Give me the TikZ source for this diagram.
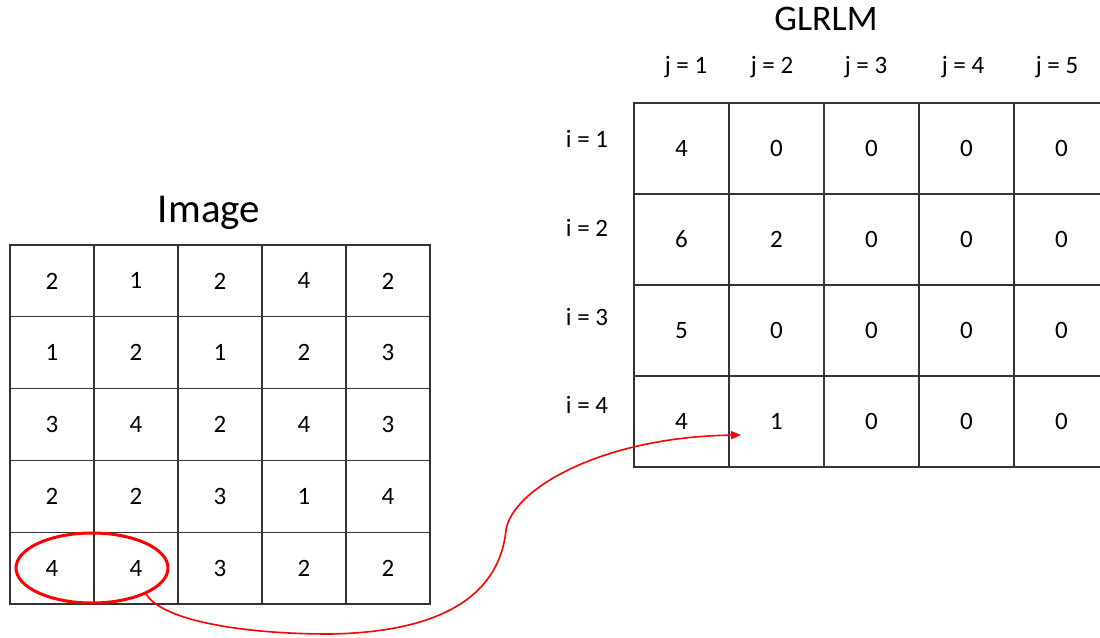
\documentclass[tikz,border=0pt]{standalone}
\usepackage{fontspec}
\setmainfont{Carlito}
\usetikzlibrary{arrows.meta, shapes.geometric}

\begin{document}
\begin{tikzpicture}[
        x=1pt, y=-1pt,
        >={Triangle[length=10pt, width=8pt]},
        every node/.style={font=\fontsize{25}{29}\selectfont},
        cell/.style={rectangle, draw=black!80, line width=1.3pt, inner sep=0pt},
        imcell/.style={cell, minimum width=84pt, minimum height=71.8pt},
        glcell/.style={cell, minimum width=95pt, minimum height=91pt},
        title/.style={anchor=base, font=\fontsize{41}{46}\selectfont}
    ]
    \useasboundingbox (0,0) rectangle (1100,637);

    % Draw image cells
    \foreach \row [count=\r] in {{2,1,2,4,2},{1,2,1,2,3},{3,4,2,4,3},{2,2,3,1,4},{4,4,3,2,2}} {
        \foreach \v [count=\c] in \row {
            \node[imcell] (im\r\c) at (84*\c-32, 71.8*\r+209.1) {\v};
        }
    }
    \node[title] (imtitle) at (209,222) {Image};

    % Draw GLRLM cells
    \foreach \row [count=\r] in {{4,0,0,0,0},{6,2,0,0,0},{5,0,0,0,0},{4,1,0,0,0}} {
        \foreach \v [count=\c] in \row {
            \node[glcell] (gl\r\c) at (95*\c+586.5, 91*\r+57.5) {\v};
        }
    }
    \node[title, font=\fontsize{36}{41}\selectfont] (gltitle) at (826,30) {GLRLM};

    % Row and column labels
    \foreach \c/\xc in {1/686,2/772,3/866,4/963,5/1057} {
        \node[anchor=base] (jlab\c) at (\xc,73) {j = \c};
    }
    \foreach \r/\yb in {1/147,2/236,3/325,4/413} {
        \node[anchor=base] (ilab\r) at (587,\yb) {i = \r};
    }

    % Highlight the run of 4s
    \node[ellipse, draw=red, line width=3pt, minimum width=152pt, minimum height=70pt,
          inner sep=0pt, outer sep=0pt] (hl) at (92,568) {};
    \coordinate (tip) at (741,435);
    \draw[->, red, line width=1.6pt] (hl.-25) .. controls (160,620) and (240,634) .. (330,634)
        .. controls (450,632) and (500,590) .. (506,530)
        .. controls (512,490) and (600,437) .. (tip);

\end{tikzpicture}
\end{document}
